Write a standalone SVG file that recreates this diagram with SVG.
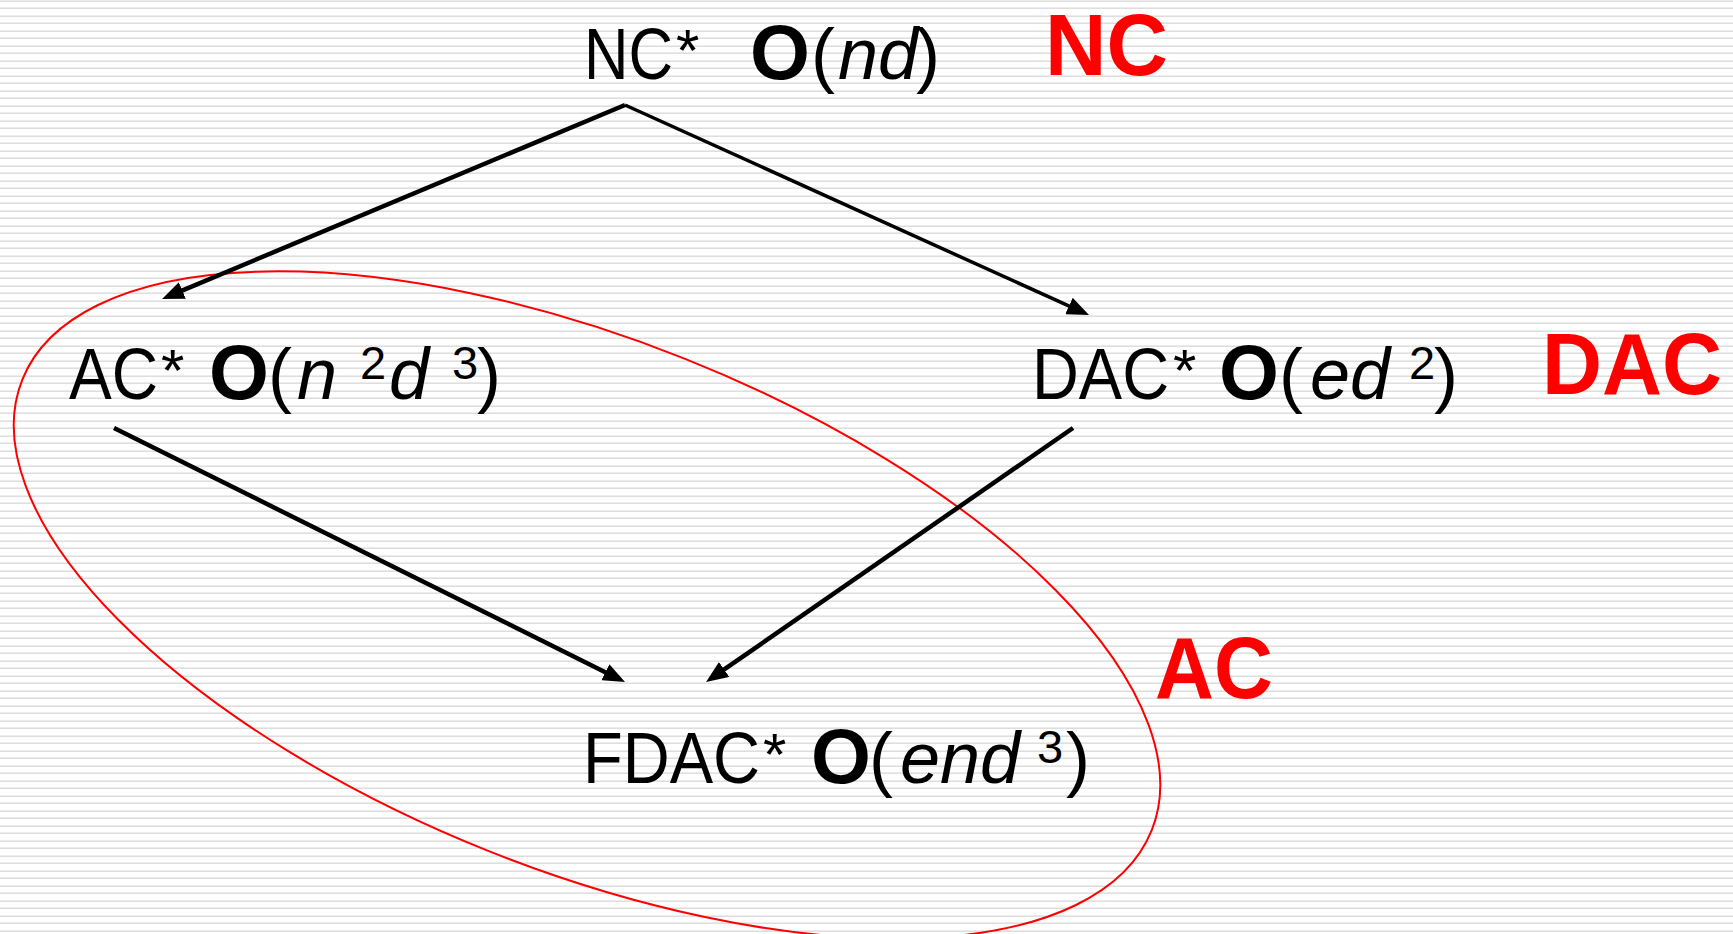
<svg xmlns="http://www.w3.org/2000/svg" width="1733" height="934" viewBox="0 0 1733 934">
  <style>
    text { font-family: "Liberation Sans", Arial, sans-serif; fill: #000; }
    .reg { font-size: 72px; }
    .star { font-size: 60px; }
    .big { font-size: 77px; font-weight: bold; }
    .it { font-size: 72px; font-style: italic; }
    .sup { font-size: 47px; }
    .tag { font-size: 87px; font-weight: bold; fill: #ff0000; }
    .edge { stroke: #000; fill: none; marker-end: url(#head); }
  </style>
  <defs>
    <pattern id="stripes" width="40" height="15" patternUnits="userSpaceOnUse">
      <rect x="0" y="0" width="40" height="15" fill="#ffffff"/>
      <rect x="0" y="0" width="40" height="1" fill="#ececec"/>
      <rect x="0" y="1" width="40" height="1" fill="#dedede"/>
      <rect x="0" y="7" width="40" height="1" fill="#ececec"/>
      <rect x="0" y="8" width="40" height="1" fill="#dedede"/>
    </pattern>
    <marker id="head" markerUnits="userSpaceOnUse" markerWidth="24" markerHeight="18" refX="10" refY="9" orient="auto">
      <path d="M0,0 L22,9 L0,18 Z" fill="#000"/>
    </marker>
  </defs>

  <!-- lined paper background -->
  <rect x="0" y="0" width="1733" height="934" fill="url(#stripes)"/>

  <!-- AC region outline -->
  <ellipse id="ac-region" cx="587" cy="605" rx="608" ry="265" transform="rotate(21.74 587 605)" fill="none" stroke="#ff0000" stroke-width="2"/>

  <!-- edges -->
  <g id="connectors">
    <line class="edge" x1="625" y1="105" x2="173.1" y2="294.3" stroke-width="4.5"/>
    <line class="edge" x1="625" y1="105" x2="1078.1" y2="310.1" stroke-width="3.5"/>
    <line class="edge" x1="114" y1="428" x2="614.3" y2="676.7" stroke-width="4.5"/>
    <line class="edge" x1="1073" y1="428" x2="715.9" y2="675.2" stroke-width="4.5"/>
  </g>

  <!-- NC* O(nd) -->
  <g id="node-nc">
    <text class="reg" x="584" y="79" textLength="89" lengthAdjust="spacingAndGlyphs">NC</text>
    <text class="star" x="676" y="71">*</text>
    <text class="big" x="750" y="79">O</text>
    <text class="reg" x="811" y="79">(</text>
    <text class="it" x="838" y="79">nd</text>
    <text class="reg" x="916" y="79">)</text>
  </g>

  <!-- AC* O(n^2 d^3) -->
  <g id="node-ac">
    <text class="reg" x="69" y="399" textLength="89" lengthAdjust="spacingAndGlyphs">AC</text>
    <text class="star" x="161" y="391">*</text>
    <text class="big" x="209" y="399">O</text>
    <text class="reg" x="268" y="399">(</text>
    <text class="it" x="297" y="399">n</text>
    <text class="sup" x="360" y="379">2</text>
    <text class="it" x="389" y="399">d</text>
    <text class="sup" x="452" y="379">3</text>
    <text class="reg" x="477" y="399">)</text>
  </g>

  <!-- DAC* O(e d^2) -->
  <g id="node-dac">
    <text class="reg" x="1032" y="399" textLength="137" lengthAdjust="spacingAndGlyphs">DAC</text>
    <text class="star" x="1173" y="391">*</text>
    <text class="big" x="1219" y="399">O</text>
    <text class="reg" x="1279" y="399">(</text>
    <text class="it" x="1310" y="399">ed</text>
    <text class="sup" x="1409" y="379">2</text>
    <text class="reg" x="1434" y="399">)</text>
  </g>

  <!-- FDAC* O(e n d^3) -->
  <g id="node-fdac">
    <text class="reg" x="583" y="783" textLength="177" lengthAdjust="spacingAndGlyphs">FDAC</text>
    <text class="star" x="763" y="775">*</text>
    <text class="big" x="811" y="783">O</text>
    <text class="reg" x="869" y="783">(</text>
    <text class="it" x="900" y="783">end</text>
    <text class="sup" x="1037" y="763">3</text>
    <text class="reg" x="1066" y="783">)</text>
  </g>

  <!-- class labels -->
  <g id="label-nc"><text class="tag" x="1045" y="75" textLength="123" lengthAdjust="spacingAndGlyphs">NC</text></g>
  <g id="label-dac"><text class="tag" x="1542" y="394" textLength="180" lengthAdjust="spacingAndGlyphs">DAC</text></g>
  <g id="label-ac"><text class="tag" x="1155" y="698" textLength="118" lengthAdjust="spacingAndGlyphs">AC</text></g>
</svg>
